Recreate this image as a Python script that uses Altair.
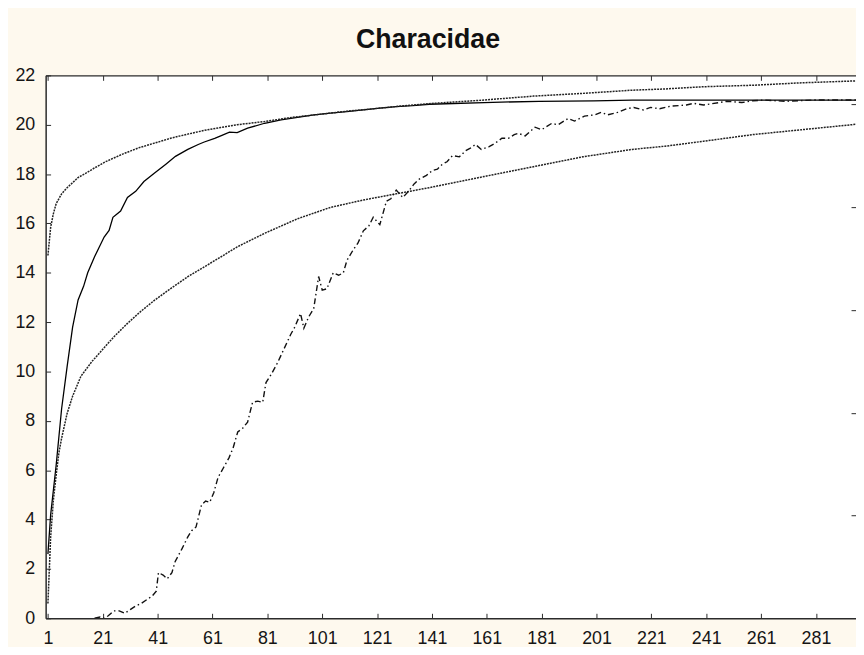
import altair as alt
import pandas as pd

TITLE = "Characidae"

x_ticks = [1, 21, 41, 61, 81, 101, 121, 141, 161, 181, 201, 221, 241, 261, 281]
y_ticks = [0, 2, 4, 6, 8, 10, 12, 14, 16, 18, 20, 22]
right_ticks = [4.17, 8.33, 12.5, 16.67, 20.83]

# observed (solid) curve
sobs_x = [1, 2, 4, 6, 8, 10, 12, 14, 15.5, 18, 21.5, 23.3, 24.7, 27.5, 30, 33, 36, 40, 44, 47.5,
          52, 55.8, 58, 61.8, 64, 67.2, 70, 73.8, 80, 86, 92, 98, 104, 110, 116, 122, 128, 134,
          140, 146, 160, 180, 200, 214, 240, 270, 300]
sobs_y = [2.6, 4.2, 6.2, 8.5, 10.2, 11.8, 12.9, 13.45, 14.0, 14.65, 15.45, 15.72, 16.25, 16.5,
          17.05, 17.3, 17.7, 18.05, 18.4, 18.72, 19.0, 19.2, 19.3, 19.45, 19.55, 19.7, 19.68,
          19.86, 20.06, 20.2, 20.3, 20.4, 20.47, 20.53, 20.6, 20.67, 20.73, 20.77, 20.83, 20.85,
          20.9, 20.95, 20.97, 21.0, 21.0, 21.0, 21.0]

# upper dotted curve
upper_x = [1, 2, 3, 4, 6, 8, 10, 12, 15, 18, 22, 28, 34, 40, 46, 52, 58, 64, 70, 80, 90, 100,
           110, 120, 130, 142, 160, 178, 196, 214, 226, 240, 258, 276, 294, 300]
upper_y = [14.7, 15.85, 16.4, 16.8, 17.2, 17.45, 17.65, 17.86, 18.05, 18.25, 18.5, 18.8, 19.06,
           19.26, 19.46, 19.62, 19.77, 19.89, 20.0, 20.13, 20.3, 20.42, 20.55, 20.65, 20.76,
           20.87, 21.0, 21.16, 21.27, 21.4, 21.45, 21.54, 21.6, 21.7, 21.77, 21.8]

# lower dotted curve
lower_x = [1, 2, 3, 4, 5, 6, 8, 10, 13, 17, 21, 25, 30, 35, 40, 46, 52, 58, 64, 70, 80, 92,
           104, 116, 128, 140, 160, 178, 196, 214, 226, 240, 258, 276, 294, 300]
lower_y = [0.6, 3.3, 4.8, 5.8, 6.7, 7.3, 8.3, 9.0, 9.8, 10.4, 10.9, 11.4, 11.95, 12.45, 12.9,
           13.38, 13.84, 14.24, 14.64, 15.05, 15.6, 16.19, 16.65, 16.95, 17.2, 17.45, 17.9,
           18.3, 18.7, 19.0, 19.13, 19.33, 19.6, 19.8, 20.0, 20.07]

# dash-dot curve
dd_x = [18, 20, 21.5, 23, 25, 27, 29, 31, 33, 35, 37, 39, 40.5, 41.3, 43, 44.5, 46.2, 47.4, 49.8,
        52, 53.4, 55, 57, 58.5, 60, 61.5, 63, 65, 67, 68.5, 70.2, 72, 73.8, 75.6, 77.5, 79.3,
        80.5, 82.5, 84.7, 87, 89.5, 91, 93.1, 94.3, 96, 97.9, 99.7, 101, 102.7, 105, 107, 108.7,
        110, 112.4, 114, 116, 118, 119.6, 122, 124.4, 126, 128, 130.4, 132.8, 134.5, 136.4, 139,
        141.2, 143, 144.8, 146.5, 148.5, 151, 153.3, 155, 156.9, 159, 161.7, 164, 166.5, 168.9,
        171, 172.5, 175, 178.6, 181, 184.6, 187, 190.6, 193, 196.6, 200.3, 202.7, 205, 208.7,
        212, 214.6, 218, 220.7, 224, 228, 233.8, 236.4, 240, 245.9, 248.4, 254, 258, 262, 270,
        280, 300]
dd_y = [0.0, 0.05, 0.0, 0.1, 0.3, 0.3, 0.2, 0.35, 0.5, 0.6, 0.75, 0.9, 1.1, 1.85, 1.75, 1.6, 1.85,
        2.3, 2.8, 3.3, 3.55, 3.7, 4.6, 4.75, 4.7, 5.1, 5.7, 6.1, 6.5, 6.9, 7.55, 7.7, 7.95, 8.75,
        8.8, 8.75, 9.55, 9.9, 10.35, 10.9, 11.5, 11.8, 12.35, 11.75, 12.2, 12.55, 13.85, 13.3,
        13.35, 14.0, 13.9, 14.0, 14.5, 14.95, 15.2, 15.7, 15.9, 16.25, 15.95, 16.9, 17.0, 17.35,
        17.05, 17.35, 17.6, 17.8, 17.95, 18.15, 18.2, 18.4, 18.5, 18.75, 18.7, 18.95, 19.05, 19.2,
        19.0, 19.1, 19.25, 19.45, 19.45, 19.6, 19.65, 19.55, 19.9, 19.8, 20.05, 20.0, 20.25, 20.15,
        20.35, 20.4, 20.5, 20.4, 20.5, 20.65, 20.7, 20.6, 20.7, 20.65, 20.75, 20.8, 20.87, 20.8,
        20.9, 20.95, 20.9, 20.97, 21.0, 20.95, 21.0, 21.0]


def frame(xs, ys):
    return pd.DataFrame({"x": xs, "y": ys})


FONT = "Liberation Sans"
W, H = 818, 548
LINE = "#2b2b2b"

xscale = alt.Scale(domain=[0.17, 295.6], nice=False, zero=False)
yscale = alt.Scale(domain=[0, 22], nice=False, zero=False)

x_bottom = alt.Axis(values=x_ticks, title=None, orient="bottom", grid=True,
                    gridDash=[5, H - 10, 5, 3000], gridColor=LINE, gridOpacity=1, gridWidth=1,
                    ticks=False, tickSize=0, domain=True, domainColor=LINE, domainWidth=1.5,
                    labelFont=FONT, labelFontSize=18, labelColor="#151515", labelPadding=11,
                    labelFlush=False, labelOverlap=False)
y_left = alt.Axis(values=y_ticks, title=None, orient="left", grid=True,
                  gridDash=[5, 3000], gridColor=LINE, gridOpacity=1, gridWidth=1,
                  ticks=False, tickSize=0, domain=True, domainColor=LINE, domainWidth=1.5,
                  labelFont=FONT, labelFontSize=18, labelColor="#151515", labelPadding=11,
                  labelFlush=False, labelOverlap=False)
x_top = alt.Axis(values=x_ticks, title=None, orient="top", grid=False, ticks=False, tickSize=0,
                 labels=False, domain=True, domainColor=LINE, domainWidth=1.5)
y_right = alt.Axis(values=right_ticks, title=None, orient="right", grid=True,
                   gridDash=[5, 3000], gridColor=LINE, gridOpacity=1, gridWidth=1,
                   ticks=False, tickSize=0, labels=False, domain=False)

solid = alt.Chart(frame(sobs_x, sobs_y)).mark_line(
    clip=True, color="#000000", strokeWidth=1.3
).encode(
    x=alt.X("x:Q", scale=xscale, axis=x_bottom),
    y=alt.Y("y:Q", scale=yscale, axis=y_left),
)

upper = alt.Chart(frame(upper_x, upper_y)).mark_line(
    clip=True, color="#222222", strokeWidth=1.5, strokeDash=[2, 1]
).encode(
    x=alt.X("x:Q", scale=xscale, axis=x_top),
    y=alt.Y("y:Q", scale=yscale, axis=y_right),
)

lower = alt.Chart(frame(lower_x, lower_y)).mark_line(
    clip=True, color="#222222", strokeWidth=1.5, strokeDash=[2, 1]
).encode(
    x=alt.X("x:Q", scale=xscale, axis=None),
    y=alt.Y("y:Q", scale=yscale, axis=None),
)

dashdot = alt.Chart(frame(dd_x, dd_y)).mark_line(
    clip=True, color="#111111", strokeWidth=1.4, strokeDash=[6, 3, 1.5, 3]
).encode(
    x=alt.X("x:Q", scale=xscale, axis=None),
    y=alt.Y("y:Q", scale=yscale, axis=None),
)

chart = alt.layer(solid, upper, lower, dashdot).resolve_axis(
    x="independent", y="independent"
).properties(
    width=W,
    height=H,
    padding={"left": 38, "top": 65, "right": 0, "bottom": 26},
    autosize=alt.AutoSizeParams(type="none"),
    background="#FEF9EE",
    title=alt.Title(TITLE, font=FONT, fontSize=27, fontWeight="bold", color="#111111",
                    anchor="middle", baseline="alphabetic", offset=12, dx=-23, dy=20),
).configure_view(
    fill="white", stroke="transparent"
)

chart.save("out.html", embed_options={"renderer": "svg", "actions": False})
